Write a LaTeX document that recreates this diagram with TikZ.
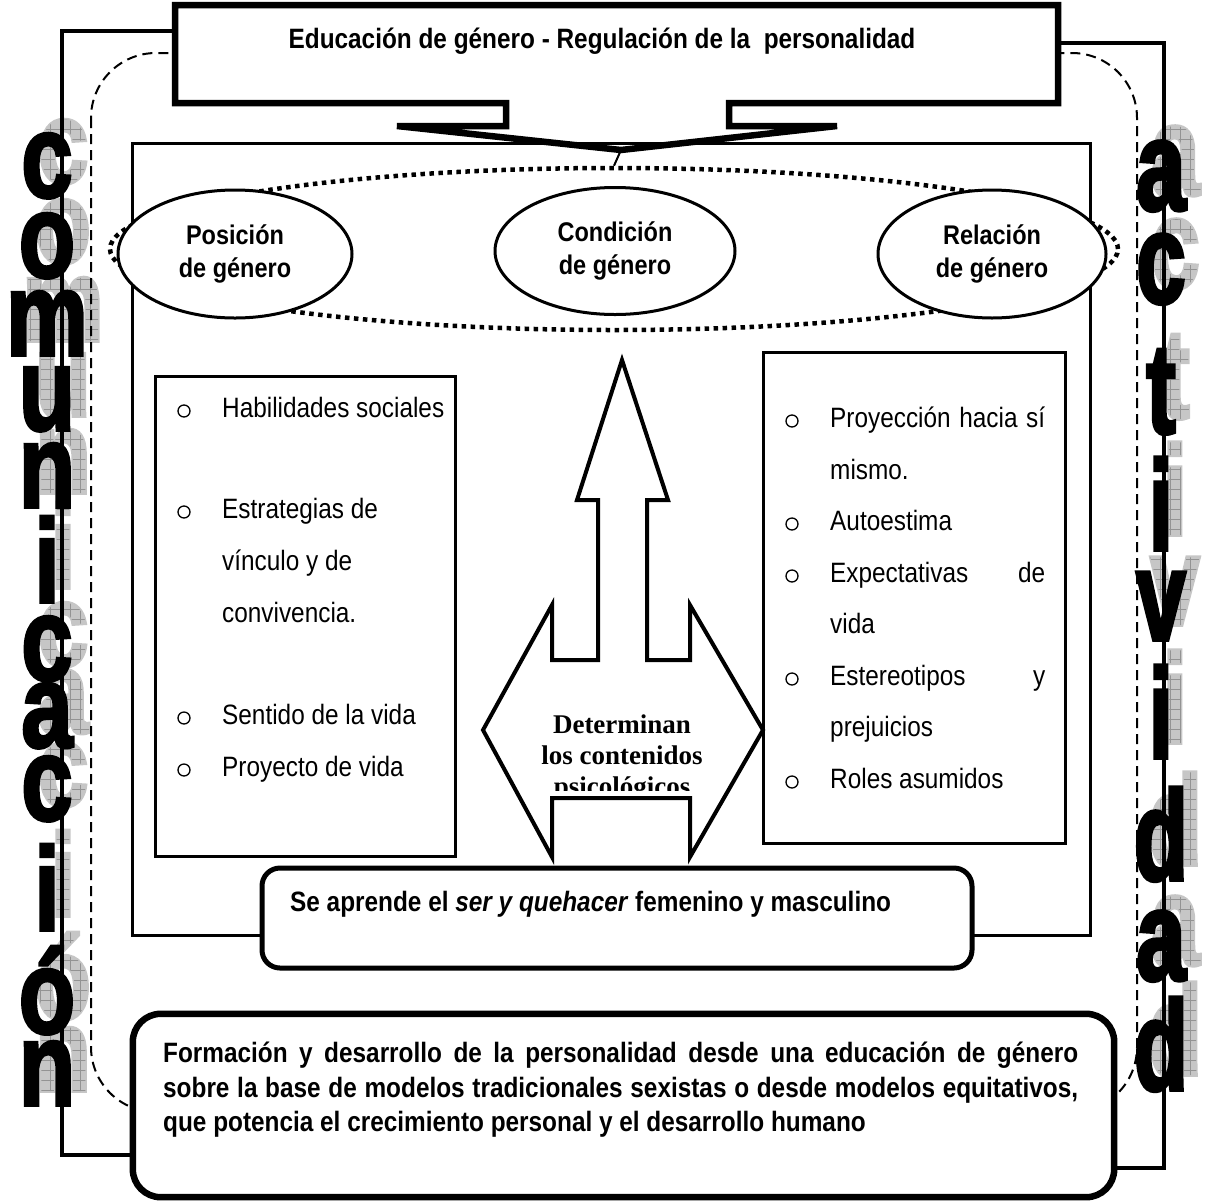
\documentclass[tikz,border=0pt]{standalone}
\usepackage{fontspec}
\setmainfont{Liberation Sans}[FakeStretch=0.87]
\newfontfamily\letterfont{Liberation Sans Bold}[FakeBold=3]
\newfontfamily\letterthin{Liberation Sans Bold}
\newfontfamily\timesfont{Liberation Serif}
\usetikzlibrary{shapes.geometric,calc,patterns}

% narrow versions of the big vertical letters
\newcommand\leftletter[1]{\scalebox{0.78}[1]{#1}}
\newcommand\rightletter[1]{\scalebox{0.7}[1]{#1}}

% square grid used as texture on the grey shadow letters
\pgfdeclarepatternformonly{shadowgrid}{\pgfqpoint{-1pt}{-1pt}}{\pgfqpoint{11pt}{11pt}}{\pgfqpoint{10pt}{10pt}}{%
  \pgfsetlinewidth{1pt}%
  \pgfpathmoveto{\pgfqpoint{0pt}{0pt}}\pgfpathlineto{\pgfqpoint{10.1pt}{0pt}}%
  \pgfpathmoveto{\pgfqpoint{0pt}{0pt}}\pgfpathlineto{\pgfqpoint{0pt}{10.1pt}}%
  \pgfusepath{stroke}}
\makeatletter
\newcommand\gridtext[1]{{\pgfsys@beginscope\pgfsetfillpattern{shadowgrid}{gray!85}#1\pgfsys@endscope}}
\makeatother

\begin{document}
\begin{tikzpicture}[x=1pt,y=-1pt,
  frameline/.style={line width=3.5pt},
  dashline/.style={line width=2pt,dash pattern=on 10pt off 6pt},
  heavy/.style={line width=6.5pt},
  shadowch/.style={anchor=base,inner sep=0pt,text=gray!45,font=\letterfont\fontsize{118}{118}\selectfont},
  gridch/.style={anchor=base,inner sep=0pt,font=\letterthin\fontsize{118}{118}\selectfont},
  blackch/.style={anchor=base,inner sep=0pt,text=black,font=\letterfont\fontsize{118}{118}\selectfont},
  shadowchR/.style={shadowch,font=\letterfont\fontsize{128}{128}\selectfont},
  gridchR/.style={gridch,font=\letterthin\fontsize{128}{128}\selectfont},
  blackchR/.style={blackch,font=\letterfont\fontsize{128}{128}\selectfont},
  oval/.style={ellipse,draw,line width=3pt,fill=white,minimum width=234pt,minimum height=128pt,inner sep=0pt,align=center,font=\bfseries\fontsize{27}{33}\selectfont},
  listbox/.style={draw,line width=3pt,inner sep=0pt},
  bullet/.style={circle,draw,line width=1.3pt,minimum size=12pt,inner sep=0pt},
  item/.style={anchor=base west,inner sep=0pt,font=\fontsize{28}{28}\selectfont},
  boldline/.style={anchor=base west,inner sep=0pt,font=\bfseries\fontsize{28}{28}\selectfont},
  serifline/.style={anchor=base,inner sep=0pt,font=\timesfont\bfseries\fontsize{27}{27}\selectfont},
]
\useasboundingbox (0,0) rectangle (1207,1200);

% grey shadow letters behind the vertical words, with a grid texture
\foreach \ch/\yy [count=\k] in {c/197,o/277,m/355,u/430,n/507,i/602,c/680,a/747,c/820,i/930,ó/1033,n/1105}{
  \node[shadowch] (ls\k) at (63,\yy-14) {\leftletter{\ch}};
  \node[gridch] (lg\k) at (63,\yy-14) {\leftletter{\gridtext{\ch}}};
}
\foreach \ch/\yy [count=\k] in {a/210,c/303,t/433,i/550,v/640,i/758,d/880,a/980,d/1090}{
  \node[shadowchR] (rs\k) at (1175,\yy-15) {\rightletter{\ch}};
  \node[gridchR] (rg\k) at (1175,\yy-15) {\rightletter{\gridtext{\ch}}};
}

% nodes for the main boxes
\node[minimum width=883pt,minimum height=98pt,inner sep=0pt] (top) at (616.5,54) {};
\node[minimum width=981pt,minimum height=183pt,inner sep=0pt] (bot) at (623.5,1105.5) {};

% outer solid frame joining the top and bottom boxes
\coordinate (ftl) at (62,31);
\coordinate (fbl) at (62,1155);
\coordinate (ftr) at (1164,43);
\coordinate (fbr) at (1164,1168);
\draw[frameline] (top.west |- ftl) -- (ftl) -- (fbl) -- (bot.west |- fbl);
\draw[frameline] (top.east |- ftr) -- (ftr) -- (fbr) -- (bot.east |- fbr);

% dashed rounded frame
\draw[dashline,rounded corners=65pt] (91,53) rectangle (1137,1112);

% black letters of the vertical words
\foreach \ch/\yy [count=\k] in {c/197,o/277,m/355,u/430,n/507,i/602,c/680,a/747,c/820,i/930,ó/1033,n/1105}
  \node[blackch] (lb\k) at (47,\yy) {\leftletter{\ch}};
\foreach \ch/\yy [count=\k] in {a/210,c/303,t/433,i/550,v/640,i/758,d/880,a/980,d/1090}
  \node[blackchR] (rb\k) at (1161,\yy) {\rightletter{\ch}};

% title callout with its pointer
\fill[white] (175,5) rectangle (1058,103);
\coordinate (tip) at (621,150);
\draw[heavy] (506,103) -- (175,103) -- (175,5) -- (1058,5) -- (1058,103) -- (729,103)
  -- (729,126) -- (837,126) -- (tip) -- (397,126) -- (506,126) -- cycle;
\node[inner sep=0pt,anchor=base,font=\bfseries\fontsize{28}{28}\selectfont] (title) at (602,48)
  {Educación de género - Regulación de la\ \ personalidad};

% inner frame
\draw[line width=3pt] (132,143) rectangle (1090,935);

% dotted ring round the three ovals
\node[ellipse,draw,line width=4.5pt,dash pattern=on 4.5pt off 4.5pt,minimum width=1008pt,minimum height=162pt,inner sep=0pt] (ring) at (614,249) {};
\draw[line width=2pt] (tip) -- (ring.north);

\node[oval] (pos) at (235,254) {Posición\\de género};
\node[oval,minimum width=240pt,minimum height=127pt] (cond) at (615,251) {Condición\\de género};
\node[oval,minimum width=228pt] (rel) at (992,254) {Relación\\de género};

% left list
\node[listbox,minimum width=300pt,minimum height=480pt] (lbox) at (305,616) {};
\node[bullet] (lb1) at (184,411) {};
\node[item] (lt1) at (222,417) {Habilidades sociales};
\node[bullet] (lb2) at (184,512) {};
\node[item] (lt2) at (222,518) {Estrategias de};
\node[item] (lt3) at (222,570) {vínculo y de};
\node[item] (lt4) at (222,622) {convivencia.};
\node[bullet] (lb5) at (184,718) {};
\node[item] (lt5) at (222,724) {Sentido de la vida};
\node[bullet] (lb6) at (184,770) {};
\node[item] (lt6) at (222,776) {Proyecto de vida};

% right list
\node[listbox,minimum width=302pt,minimum height=491pt] (rbox) at (914,597.5) {};
\node[bullet] (rb1) at (792,421) {};
\node[item] (rt1) at (830,427) {\makebox[215pt][s]{Proyección hacia sí}};
\node[item] (rt2) at (830,479) {mismo.};
\node[bullet] (rb3) at (792,524) {};
\node[item] (rt3) at (830,530) {Autoestima};
\node[bullet] (rb4) at (792,576) {};
\node[item] (rt4) at (830,582) {\makebox[215pt][s]{Expectativas de}};
\node[item] (rt5) at (830,633) {vida};
\node[bullet] (rb6) at (792,679) {};
\node[item] (rt6) at (830,685) {\makebox[215pt][s]{Estereotipos y}};
\node[item] (rt7) at (830,736) {prejuicios};
\node[bullet] (rb8) at (792,782) {};
\node[item] (rt8) at (830,788) {Roles asumidos};

% up and left-right block arrow
\draw[line width=4pt,fill=white,line join=miter]
  (622,360) -- (668,500) -- (647,500) -- (647,660) -- (690,660) -- (690,605)
  -- (763,730) -- (690,857) -- (690,798) -- (552,798) -- (552,857) -- (483,730)
  -- (552,605) -- (552,660) -- (598,660) -- (598,500) -- (577,500) -- cycle;
\begin{scope}
  \clip (540,700) rectangle (705,790);
  \node[serifline] (det1) at (622,733) {Determinan};
  \node[serifline] (det2) at (622,764) {los contenidos};
  \node[serifline] (det3) at (622,795) {psicológicos};
\end{scope}

% box under the arrow
\node[draw,line width=5pt,fill=white,rounded corners=18pt,minimum width=710pt,minimum height=100pt,inner sep=0pt] (learn) at (617,918) {};
\node[boldline] (learntxt) at (290,911) {Se aprende el \textit{ser y quehacer} femenino y masculino};

% bottom box
\draw[heavy,fill=white,rounded corners=28pt] (bot.north west) rectangle (bot.south east);
\node[boldline] (f1) at (163,1062) {\makebox[915pt][s]{Formación y desarrollo de la personalidad desde una educación de género}};
\node[boldline] (f2) at (163,1097) {\makebox[915pt][s]{sobre la base de modelos tradicionales sexistas o desde modelos equitativos,}};
\node[boldline] (f3) at (163,1131) {que potencia el crecimiento personal y el desarrollo humano};
\end{tikzpicture}
\end{document}
